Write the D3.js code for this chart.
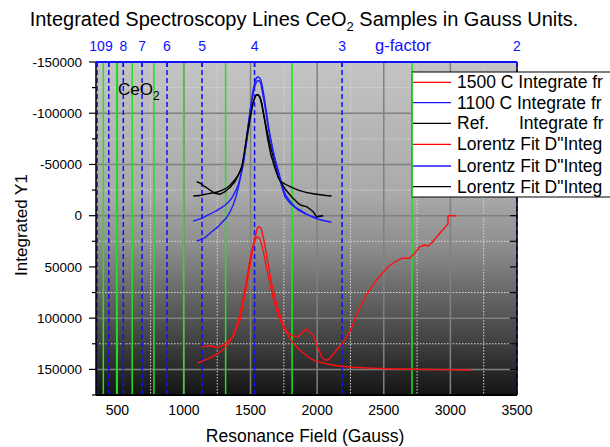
<!DOCTYPE html>
<html><head><meta charset="utf-8">
<script src="https://cdn.jsdelivr.net/npm/d3@7"></script>
<style>
html,body{margin:0;padding:0;background:#fff;}
svg{display:block;font-family:"Liberation Sans",Arial,sans-serif;}
</style></head>
<body><svg id="c" width="610" height="447"></svg>
<script>
// ---------- data ----------
const xTicks = [500,1000,1500,2000,2500,3000,3500];
const yTicks = [-150000,-100000,-50000,0,50000,100000,150000];
const gLabels = ["10","9","8","7","6","5","4","3","2"];
const gFields = [348,436,545,686,873,1136,1530,2187,3500];
const greenLines = [395,495,612,775,998,1313,1812,2712];

// 1500 C integrated (red)
const red1500X = [1133,1195,1257,1308,1370,1420,1465,1503,1533,1551,1565,1581,1600,1630,1660,1698,1745,1780,1820,1857,1885,1915,1945,1970,1998,2033,2058,2082,2110,2145,2193,2245,2305,2370,2445,2532,2583,2633,2695,2733,2770,2808,2832,2858,2920,2982,2982,3045];
const red1500Y = [128000,126900,128800,125200,118100,101800,72500,43200,21800,12000,10700,13000,23700,45200,67600,87200,106700,114500,117400,118100,114500,110600,113500,116400,126200,137600,140800,140800,137000,131100,124300,113200,94000,77400,62800,49800,45200,41600,41600,36400,30300,28600,29600,26900,17200,8100,0,0];
// 1100 C integrated (blue)
const blue1100X = [1095,1120,1158,1195,1225,1257,1285,1320,1345,1370,1390,1407,1420,1433,1458,1488,1510,1529,1548,1563,1578,1600,1630,1660,1698,1733,1758,1795,1857,1915,1983,2020,2045];
const blue1100Y = [24700,23700,21500,17200,14000,10700,6600,2000,-3600,-10400,-18200,-26700,-34800,-42900,-64100,-93400,-112900,-125600,-131500,-132000,-128500,-112900,-88500,-69000,-46500,-29000,-18500,-12400,-5600,-1600,1600,800,300];
// Ref integrated (black)
const refX = [1095,1120,1158,1195,1233,1270,1308,1345,1383,1405,1433,1450,1473,1495,1518,1536,1553,1570,1585,1608,1630,1653,1683,1709,1733,1765,1808,1857,1885,1920,1945,1970,1995,2020,2045];
const refY = [-33200,-31900,-28300,-25100,-21900,-20900,-23400,-27500,-33200,-38700,-46300,-59200,-78800,-95300,-110000,-116800,-118300,-115800,-108000,-91400,-73900,-59200,-46500,-36800,-31600,-25000,-18500,-12100,-9900,-8800,-6500,-3900,1000,300,0];
// Lorentz fits
const fitRedX = [1100,1158,1210,1270,1313,1360,1405,1443,1480,1510,1533,1553,1570,1593,1623,1660,1705,1758,1820,1870,1970,2095,2220,2470,2720,3153];
const fitRedY = [144000,140800,137900,133000,127900,119400,103800,82300,55000,33500,23700,20500,22800,33500,53000,74500,96000,111600,124300,131100,140800,145200,147400,149100,149900,150600];
const fitBlueX = [1070,1120,1182,1233,1283,1323,1358,1383,1407,1428,1445,1465,1488,1510,1529,1544,1557,1574,1593,1615,1645,1675,1707,1758,1795,1833,1885,1932,1983,2033,2108];
const fitBlueY = [5200,3200,-700,-4100,-7800,-11900,-17000,-23100,-30000,-40700,-49500,-69000,-93400,-114900,-128500,-134400,-135400,-133400,-122700,-105100,-78800,-59200,-44600,-21800,-14300,-8800,-4600,-700,2300,4200,6500];
const fitBlackX = [1070,1120,1158,1210,1257,1300,1333,1368,1407,1435,1458,1480,1503,1525,1544,1559,1578,1600,1630,1660,1690,1720,1758,1808,1870,1970,2108];
const fitBlackY = [-19200,-19700,-20900,-22100,-23400,-25600,-28300,-32900,-39700,-48500,-62200,-80700,-99200,-112900,-117800,-117800,-112900,-98300,-78800,-62200,-48500,-34800,-30900,-27700,-24500,-21400,-19200];

const legendNames = ["1500 C Integrate fr","1100 C Integrate fr","Ref.","Lorentz Fit D\"Integ","Lorentz Fit D\"Integ","Lorentz Fit D\"Integ"];
const legendColors = ["#ff0000","#1c1cff","#000000","#ff0000","#1c1cff","#000000"];

// ---------- chart ----------
const svg = d3.select("#c");
const L=96,R=517,T=62,B=395;
const x = d3.scaleLinear().domain([340,3500]).range([L,R]);
const y = d3.scaleLinear().domain([-150000,175000]).range([T,B]);

const defs = svg.append("defs");
const grad = defs.append("linearGradient").attr("id","bg").attr("x1",0).attr("y1",0).attr("x2",0).attr("y2",1);
[[0,"#c4c4c4"],[0.4,"#a9a9a9"],[0.55,"#8e8e8e"],[0.7,"#666"],[0.85,"#3e3e3e"],[1,"#141414"]].forEach(s=>grad.append("stop").attr("offset",s[0]).attr("stop-color",s[1]));

svg.append("rect").attr("x",L).attr("y",T).attr("width",R-L).attr("height",B-T).attr("fill","url(#bg)");

const grid = svg.append("g");
d3.range(750,3500,500).forEach(v=>grid.append("line").attr("x1",x(v)).attr("x2",x(v)).attr("y1",T).attr("y2",B).attr("stroke","#d8d8d8").attr("stroke-width",1).attr("stroke-dasharray","1.5,1.5"));
d3.range(-125000,175000,50000).forEach(v=>grid.append("line").attr("x1",L).attr("x2",R).attr("y1",y(v)).attr("y2",y(v)).attr("stroke","#d8d8d8").attr("stroke-width",1).attr("stroke-dasharray","1.5,1.5"));
d3.range(500,3500,500).forEach(v=>grid.append("line").attr("x1",x(v)).attr("x2",x(v)).attr("y1",T).attr("y2",B).attr("stroke","#808080").attr("stroke-width",1.5));
d3.range(-100000,175000,50000).forEach(v=>grid.append("line").attr("x1",L).attr("x2",R).attr("y1",y(v)).attr("y2",y(v)).attr("stroke","#808080").attr("stroke-width",1.5));

// g-factor dashed lines
const refg = svg.append("g");
gFields.forEach(v=>refg.append("line").attr("x1",x(v)).attr("x2",x(v)).attr("y1",T).attr("y2",B).attr("stroke","#1010ff").attr("stroke-width",1.5).attr("stroke-dasharray","5,3"));
// green reference lines
greenLines.forEach(v=>svg.append("line").attr("x1",x(v)).attr("x2",x(v)).attr("y1",T).attr("y2",B).attr("stroke","#22e022").attr("stroke-width",1.5));

// curves
const mk = (xs,ys)=>xs.map((d,i)=>[d,ys[i]]);
const line = d3.line().x(d=>x(d[0])).y(d=>y(d[1])).curve(d3.curveCatmullRom.alpha(0.5));
const lineLin = d3.line().x(d=>x(d[0])).y(d=>y(d[1]));
const curves = [
  [mk(fitRedX,fitRedY),"#ff1010",line],
  [mk(fitBlackX,fitBlackY),"#000000",line],
  [mk(fitBlueX,fitBlueY),"#1c1cff",line],
  [mk(red1500X,red1500Y),"#ff1010",lineLin],
  [mk(blue1100X,blue1100Y),"#1c1cff",lineLin],
  [mk(refX,refY),"#000000",lineLin]
];
curves.forEach(c=>svg.append("path").attr("d",c[2](c[0])).attr("fill","none").attr("stroke",c[1]).attr("stroke-width",1.4).attr("stroke-linejoin","round"));

// axes
const ax = svg.append("g");
ax.append("line").attr("x1",L).attr("x2",L).attr("y1",T).attr("y2",B).attr("stroke","#000").attr("stroke-width",1.5);
d3.range(-150000,175001,25000).forEach(v=>{
  const major = v%50000===0;
  ax.append("line").attr("x1",L).attr("x2",L-(major?7:4)).attr("y1",y(v)).attr("y2",y(v)).attr("stroke","#000").attr("stroke-width",1.2);
});
yTicks.forEach(v=>ax.append("text").attr("x",82).attr("y",y(v)).attr("dy","0.35em").attr("text-anchor","end").attr("font-size",13.5).text(v));
ax.append("line").attr("x1",R).attr("x2",R).attr("y1",T).attr("y2",B).attr("stroke","#000").attr("stroke-width",1.5);
d3.range(-125000,175000,25000).forEach(v=>ax.append("line").attr("x1",R).attr("x2",R-7).attr("y1",y(v)).attr("y2",y(v)).attr("stroke","#000").attr("stroke-width",1.2));
ax.append("line").attr("x1",L).attr("x2",R).attr("y1",B).attr("y2",B).attr("stroke","#000").attr("stroke-width",2);
xTicks.forEach(v=>ax.append("text").attr("x",x(v)).attr("y",415).attr("text-anchor","middle").attr("font-size",14).text(v));
ax.append("line").attr("x1",L).attr("x2",R).attr("y1",T).attr("y2",T).attr("stroke","#1010ff").attr("stroke-width",2);
gFields.forEach((v,i)=>{
  ax.append("line").attr("x1",x(v)).attr("x2",x(v)).attr("y1",T).attr("y2",T+5).attr("stroke","#1010ff").attr("stroke-width",1.5);
  ax.append("text").attr("x",x(v)).attr("y",51).attr("text-anchor","middle").attr("font-size",14).attr("fill","#1010ff").text(gLabels[i]);
});
ax.append("text").attr("x",403).attr("y",51).attr("text-anchor","middle").attr("font-size",16.5).attr("fill","#1010ff").text("g-factor");

// legend (drawn over the plot and the right axis)
const lg = svg.append("g");
const lx=412, ly=72;
lg.append("rect").attr("x",lx).attr("y",ly).attr("width",260).attr("height",125).attr("fill","#fff").attr("stroke","#000").attr("stroke-width",1);
lg.append("line").attr("x1",x(greenLines[7])).attr("x2",x(greenLines[7])).attr("y1",ly).attr("y2",ly+125).attr("stroke","#22e022").attr("stroke-width",1.5);
const rows=[82.3,102.7,123.3,144.3,166,186.7];
legendNames.forEach((n,i)=>{
  lg.append("line").attr("x1",lx+1).attr("x2",lx+39).attr("y1",rows[i]).attr("y2",rows[i]).attr("stroke",legendColors[i]).attr("stroke-width",1.3);
  const t = lg.append("text").attr("x",457).attr("y",rows[i]+6).attr("font-size",17.5).attr("fill","#000");
  if(i===2){ t.text("Ref."); t.append("tspan").attr("x",519).text("Integrate fr"); }
  else t.text(n);
});

// titles
const title = svg.append("text").attr("x",304).attr("y",26).attr("text-anchor","middle").attr("font-size",20);
title.append("tspan").text("Integrated Spectroscopy Lines CeO");
title.append("tspan").attr("font-size",13).attr("dy",5).text("2");
title.append("tspan").attr("dy",-5).text(" Samples in Gauss Units.");

svg.append("text").attr("x",305).attr("y",442).attr("text-anchor","middle").attr("font-size",17.5).text("Resonance Field (Gauss)");
svg.append("text").attr("transform","translate(27,225) rotate(-90)").attr("text-anchor","middle").attr("font-size",17).text("Integrated Y1");

const ce = svg.append("text").attr("x",118).attr("y",95).attr("font-size",17);
ce.append("tspan").text("CeO");
ce.append("tspan").attr("font-size",12).attr("dy",5).text("2");
</script></body></html>
